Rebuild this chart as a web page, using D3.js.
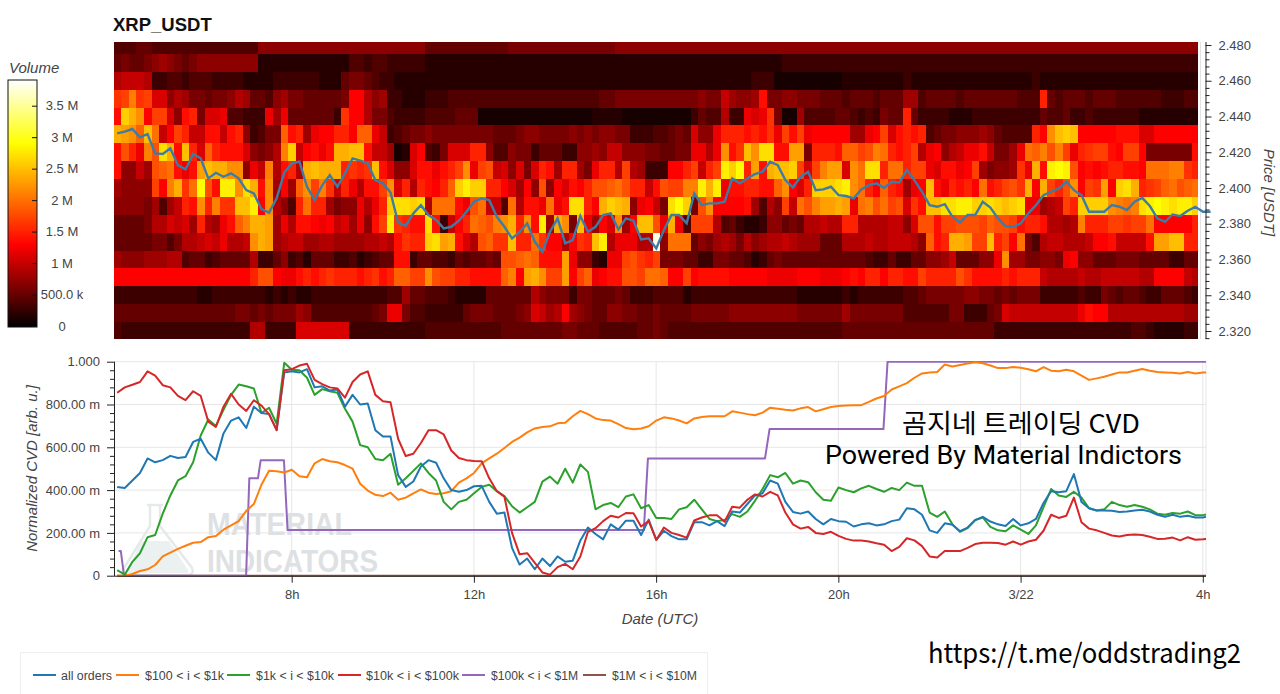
<!DOCTYPE html>
<html>
<head>
<meta charset="utf-8">
<script src="https://cdn.jsdelivr.net/npm/d3@7"></script>
<style>
  html, body { margin: 0; padding: 0; background: #fff; overflow: hidden; }
  svg { display: block; }
  text { font-family: "Liberation Sans", Arial, sans-serif; }
</style>
</head>
<body>
<div id="chart"></div>
<script>
// heatmap price bins, one row of volume per bin (unit: 0.1 M), one value per 10 minute column
var priceBins = [2.48,2.47,2.46,2.45,2.44,2.43,2.42,2.41,2.40,2.39,2.38,2.37,2.36,2.35,2.34,2.33,2.32]

var vol248 = [4,4,4,5,5,4,4,4,4,4,4,4,4,4,4,4,4,4,4,7,7,7,7,7,7,7,7,7,7,7,7,7,7,7,7,7,7,7,7,7,7,
  5,5,5,5,5,5,5,5,5,5,5,6,6,6,6,6,6,6,6,6,6,6,6,6,6,7,7,7,7,7,7,7,7,7,7,7,7,7,7,7,7,7,7,7,7,7,7,7,7,7,7,7,7,7,7,
  7,7,7,7,7,7,7,7,7,7,7,7,7,7,7,7,7,7,7,7,7,7,7,7,7,7,7,7,7,7,7,7,7,7,7,7,7,7,7,7,7,7,7,7,7,7,7]
var vol247 = [5,6,5,5,6,7,8,7,6,5,6,7,7,7,7,7,7,7,7,2,2,2,2,2,2,2,2,2,2,2,2,4,4,3,4,4,3,3,3,3,3,
  2,2,2,2,2,2,2,2,2,2,2,2,2,2,2,2,2,2,2,2,2,2,2,2,2,2,2,2,2,2,2,2,2,2,2,2,2,2,2,2,2,2,2,2,2,2,2,3,3,3,3,3,3,3,3,
  3,3,3,3,3,3,3,3,3,3,3,3,3,3,3,3,3,3,3,3,3,3,3,3,3,3,3,3,3,3,3,3,3,3,3,3,3,3,3,3,3,3,3,3,3,3,3]
var vol246 = [9,10,10,10,9,3,3,4,4,3,4,4,4,3,3,3,3,2,2,2,2,3,3,3,3,3,3,2,2,2,5,6,6,5,4,3,3,2,2,2,2,
  2,2,2,2,2,2,2,2,2,2,2,2,2,2,2,2,2,2,2,2,2,2,2,2,2,2,2,2,2,2,2,2,2,2,2,2,2,2,2,2,2,2,2,3,3,3,1,1,1,1,1,1,1,1,1,
  2,2,2,2,2,2,2,2,3,2,2,2,2,2,2,2,2,2,2,2,2,2,2,2,2,3,2,2,2,2,2,2,2,2,2,2,2,2,2,2,2,2,2,2,2,2,2]
var vol245 = [16,17,21,16,17,11,11,7,9,8,6,6,5,6,6,7,9,8,5,5,4,7,8,6,6,5,5,5,5,5,6,13,13,9,7,8,3,3,2,2,2,
  3,3,3,4,4,4,4,4,4,4,4,4,4,4,4,4,4,4,4,4,4,4,4,5,5,6,6,6,6,6,6,6,6,6,6,6,7,6,6,10,8,7,7,8,14,6,6,7,7,6,6,6,5,5,5,
  4,5,5,5,4,5,5,5,8,8,4,5,5,5,5,4,5,5,5,5,5,5,5,4,4,4,15,5,4,5,5,5,4,5,5,5,4,4,4,4,4,4,3,3,3,4,4]
var vol244 = [14,26,24,22,13,17,17,11,7,14,15,6,11,11,12,4,4,3,3,3,12,8,12,5,5,5,5,5,5,3,16,13,13,9,6,6,4,3,3,3,3,
  4,4,4,4,5,5,5,1,1,1,1,1,1,1,1,1,1,1,1,1,1,1,2,2,2,2,1,1,1,1,1,1,1,1,1,3,5,4,4,9,3,3,12,11,12,16,6,1,1,8,4,4,4,4,5,
  5,4,3,4,3,6,5,5,15,5,3,3,3,3,2,2,2,3,3,3,3,3,3,3,3,3,5,4,4,5,3,3,4,3,3,3,3,3,3,2,2,2,2,2,2,2,2]
var vol243 = [24,23,22,19,25,20,10,13,17,15,10,10,14,14,10,14,15,7,3,4,6,6,19,14,15,8,12,13,13,15,15,13,19,19,12,10,3,4,5,6,6,
  7,6,6,6,6,6,6,6,6,5,5,5,6,7,7,6,6,6,6,7,6,7,6,7,7,6,6,3,3,3,4,4,5,6,5,11,7,7,12,15,15,15,14,15,14,16,12,17,14,17,12,13,13,13,13,
  13,8,8,12,13,17,11,14,15,14,15,4,5,6,6,7,7,7,8,7,5,4,4,4,4,15,13,22,25,26,25,13,13,13,13,13,14,14,14,11,11,13,13,13,13,13,13]
var vol242 = [14,18,15,12,21,18,27,24,14,25,15,11,19,15,14,14,14,11,7,6,7,9,21,26,10,13,14,12,14,24,24,25,25,14,10,10,8,1,2,11,13,
  4,3,6,11,11,11,15,15,7,4,4,7,6,6,3,5,5,5,3,3,7,7,8,7,10,10,7,7,7,6,6,5,5,6,6,12,12,9,12,22,14,16,25,22,27,27,14,14,23,23,6,15,15,15,14,
  19,19,17,18,21,20,15,14,15,17,9,12,13,7,9,10,12,12,14,10,6,6,8,12,20,19,21,18,21,17,12,15,16,17,17,14,13,17,17,13,6,6,6,6,6,6,14]
var vol241 = [14,7,7,10,8,18,19,20,14,12,14,23,25,24,24,22,22,7,12,10,21,9,14,15,9,24,25,24,24,24,15,16,15,16,25,14,11,7,7,11,14,
  14,12,14,15,17,22,12,17,18,10,11,7,11,6,11,15,14,8,15,15,8,6,12,15,15,9,17,9,8,3,3,3,13,13,15,17,10,15,17,28,26,29,15,23,14,24,25,25,26,17,11,17,21,23,23,
  11,22,20,27,27,15,20,20,15,17,17,12,11,14,14,12,13,17,8,6,7,7,8,16,12,24,14,28,29,28,18,13,14,13,14,15,15,14,14,13,20,20,20,21,21,16,15]
var vol240 = [8,7,7,7,7,17,13,21,24,16,20,29,18,14,28,28,22,27,24,14,22,8,13,8,19,22,17,21,16,10,15,12,9,14,14,17,22,11,15,9,15,
  14,13,15,19,26,28,26,26,15,15,13,11,8,13,7,18,7,13,11,14,13,15,18,18,19,20,18,15,15,10,14,18,17,17,21,21,28,24,28,12,14,14,15,15,14,14,19,22,13,11,15,26,26,26,27,
  28,22,20,15,13,19,15,14,8,12,13,25,14,12,15,14,15,13,20,14,15,17,18,16,24,13,24,17,15,18,22,13,17,16,23,13,26,27,24,15,16,17,19,20,18,19,20]
var vol239 = [7,7,7,7,6,8,4,8,10,15,14,22,15,21,16,16,25,25,28,13,22,9,7,4,15,20,15,15,8,6,7,7,12,9,12,15,26,27,27,26,27,
  9,20,20,20,14,12,18,20,10,10,4,20,9,14,14,12,20,12,14,27,27,15,13,24,26,25,24,7,12,13,10,6,27,29,26,6,18,22,13,13,13,13,14,8,4,9,7,17,10,20,18,21,23,23,24,
  23,12,20,21,18,20,17,18,11,16,14,25,25,27,27,28,28,26,26,27,26,25,26,27,12,12,8,9,10,17,15,26,26,26,26,22,21,20,21,27,28,29,28,27,28,28,26]
var vol238 = [5,5,5,5,6,9,9,11,10,11,8,15,9,8,12,14,19,21,24,24,23,8,12,9,14,14,13,12,13,10,11,8,12,7,14,17,28,16,15,14,14,
  27,14,3,10,13,15,20,19,18,21,22,24,15,22,14,28,8,24,22,6,25,12,8,13,11,22,8,13,25,25,18,12,24,12,4,17,17,17,9,4,5,3,2,2,3,7,7,5,6,5,9,9,10,9,9,
  15,15,9,9,9,9,10,10,7,11,18,18,14,17,17,18,18,18,17,19,18,18,17,14,15,15,14,9,9,8,9,21,15,15,15,17,17,16,17,17,20,13,13,13,13,13,15]
var vol237 = [5,5,5,5,5,6,6,4,6,9,9,10,11,10,12,9,9,10,22,24,23,8,9,10,10,8,8,9,9,8,8,8,8,9,9,10,9,14,16,15,15,
  26,27,23,24,14,11,9,18,19,16,16,25,15,15,20,16,13,13,9,13,16,15,25,28,9,12,12,12,9,9,38,7,20,20,20,5,7,6,8,9,8,6,9,7,8,9,9,10,9,8,8,8,5,5,5,
  9,9,9,10,9,9,10,10,10,9,7,19,14,15,24,24,23,17,17,25,15,17,13,20,6,4,9,10,10,9,9,9,10,13,13,14,10,10,10,10,14,23,23,25,25,15,15]
var vol236 = [8,7,7,7,8,8,8,9,9,4,5,5,3,4,5,5,5,5,9,3,3,5,7,3,4,2,5,5,5,3,3,4,2,3,4,5,5,14,14,3,5,
  5,4,4,3,5,4,5,5,6,5,18,18,19,20,19,14,14,14,23,12,7,7,3,2,12,12,17,18,16,15,17,6,6,6,5,5,3,3,6,6,5,5,4,2,3,5,6,5,5,5,5,5,5,5,5,
  5,5,5,4,3,3,5,3,3,5,5,7,7,8,10,5,5,5,7,7,12,22,8,8,6,6,7,7,6,12,13,7,7,5,5,5,6,6,6,5,5,5,5,3,3,5,5]
var vol235 = [13,13,13,13,13,13,13,13,13,13,13,13,13,13,13,13,13,13,15,18,18,13,12,12,14,15,14,15,16,15,15,15,14,15,16,14,15,19,19,17,17,
  22,18,17,17,15,15,14,14,14,14,19,21,13,23,24,22,17,17,23,13,17,19,12,13,14,14,18,18,17,20,20,19,13,13,17,13,14,14,14,14,13,13,13,13,13,12,12,12,12,13,13,13,12,12,12,
  13,14,13,15,15,13,15,15,14,14,17,15,15,15,15,18,16,14,14,14,14,15,14,15,15,15,10,9,9,9,9,10,9,9,10,10,10,10,10,9,9,13,13,13,13,10,9]
var vol234 = [3,3,3,3,3,3,3,3,3,3,3,2,2,3,3,3,3,3,3,3,2,3,2,3,2,2,3,3,3,3,3,3,3,3,3,3,4,4,8,5,5,
  4,4,4,3,2,2,2,2,5,5,5,5,5,5,9,7,6,6,6,3,6,6,5,5,5,6,5,3,3,3,4,4,4,4,2,3,3,3,3,3,3,3,3,3,3,3,3,3,3,2,2,2,2,2,2,
  3,2,3,3,3,3,3,3,4,4,5,6,6,6,6,6,7,7,6,6,5,6,5,6,6,6,3,3,3,3,3,4,3,3,6,5,4,5,5,4,3,3,5,5,5,4,3]
var vol233 = [5,5,5,5,5,5,5,5,5,5,5,5,5,5,5,5,6,6,5,6,5,6,6,6,8,7,4,4,4,4,4,4,4,4,5,6,12,12,6,4,4,
  3,3,3,3,3,5,6,6,6,5,5,5,6,7,11,10,8,9,13,8,7,6,5,5,7,7,6,6,5,5,6,5,5,5,5,6,6,6,6,6,7,7,7,7,7,7,7,7,7,6,6,6,6,6,6,
  8,6,6,6,6,6,6,6,4,4,4,4,4,4,6,6,3,3,3,5,6,11,10,10,10,10,10,10,10,10,10,12,14,13,13,9,9,9,9,9,9,9,9,9,9,8,8]
var vol232 = [4,3,3,3,3,3,3,3,3,3,3,3,3,3,3,3,3,3,9,9,3,3,3,3,11,11,11,11,11,11,11,3,3,3,3,3,3,3,3,3,3,
  4,4,4,4,4,4,4,4,4,4,5,5,5,5,5,5,5,5,6,6,5,5,5,4,4,4,4,4,5,5,6,5,4,4,4,4,4,4,4,4,4,4,4,4,4,4,4,4,4,4,4,4,4,4,4,
  5,5,5,5,5,5,5,5,5,5,5,5,5,5,5,5,5,5,5,5,3,3,3,3,3,3,3,3,3,3,3,3,3,3,3,3,3,3,4,4,3,2,2,2,2,3,3]

// mid price drawn over the heatmap, one value per 10 minutes
var midPrice = [2.4306,2.4315,2.4330,2.4283,2.4302,2.4194,2.4190,2.4222,2.4128,2.4104,2.4190,2.4166,2.4054,2.4085,2.4063,2.4082,2.4054,2.3988,2.3970,2.3882,2.3862,2.3942,2.4085,2.4138,2.4147,2.4007,2.3932,2.4015,2.4072,2.4007,2.4082,2.4166,2.4153,2.4138,2.4044,2.4026,2.3975,2.3806,2.3789,2.3858,2.3904,
  2.3849,2.3821,2.3774,2.3783,2.3817,2.3867,2.3923,2.3942,2.3932,2.3839,2.3783,2.3718,2.3755,2.3802,2.3699,2.3643,2.3755,2.3830,2.3690,2.3709,2.3843,2.3755,2.3783,2.3849,2.3858,2.3768,2.3830,2.3817,2.3712,2.3718,2.3662,2.3765,2.3849,2.3849,2.3802,2.3970,2.3904,2.3914,2.3914,2.3923,2.4054,2.4026,2.4054,2.4078,2.4091,2.4147,2.4128,2.4044,2.4003,2.4063,2.4091,2.3988,2.3992,2.4007,2.3960,
  2.3955,2.3942,2.3992,2.4016,2.4026,2.4001,2.4035,2.4031,2.4100,2.4044,2.3979,2.3904,2.3895,2.3910,2.3839,2.3806,2.3849,2.3849,2.3923,2.3891,2.3830,2.3787,2.3783,2.3802,2.3858,2.3904,2.3960,2.3979,2.3998,2.4035,2.3988,2.3960,2.3867,2.3867,2.3867,2.3904,2.3895,2.3876,2.3923,2.3945,2.3899,2.3830,2.3811,2.3852,2.3843,2.3873,2.3895,2.3867,2.3867]

// normalized CVD, thousandths, one value per 10 minutes
var cvdAll = [415,410,445,480,548,530,540,560,550,555,625,640,575,540,665,725,740,690,790,760,755,680,950,955,950,965,880,885,865,870,790,845,800,805,680,650,650,470,415,440,510,
  540,528,455,400,392,400,418,420,345,290,295,130,52,80,30,80,45,90,65,70,165,225,195,170,240,215,257,257,190,262,167,210,185,170,170,250,250,235,255,232,300,295,335,375,385,445,430,345,298,290,300,265,240,265,255,
  252,230,240,245,235,240,255,262,315,310,285,212,200,245,238,208,225,260,275,253,240,232,265,235,245,265,340,395,390,395,475,345,315,305,305,303,298,300,305,308,300,285,275,285,275,280,272,272,280]
var cvd100 = [0,0,8,22,30,50,90,108,125,140,154,157,180,185,215,235,255,303,335,425,490,488,482,495,465,460,525,545,535,530,517,500,430,398,378,372,388,355,365,385,403,
  388,382,385,395,435,455,480,525,548,570,597,625,645,670,688,695,698,712,715,745,770,755,735,727,725,708,690,684,688,698,725,740,735,725,712,735,742,745,745,745,768,762,755,750,762,785,780,775,772,782,788,768,778,788,793,
  795,797,797,812,828,840,870,885,900,925,945,950,952,987,978,985,992,997,993,982,970,970,975,972,965,955,975,958,955,962,955,935,915,922,930,940,950,950,958,966,958,952,950,948,945,952,945,950,950]
var cvd1k = [26,5,65,105,180,190,290,375,445,465,530,655,730,700,775,845,893,885,875,760,785,710,995,962,960,925,845,872,862,855,780,720,610,600,545,540,570,425,455,490,525,
  480,445,345,310,345,355,385,415,425,395,372,325,295,320,345,440,463,430,500,435,520,485,310,330,340,320,370,380,315,330,270,270,265,310,320,355,310,265,255,260,288,275,300,350,405,470,460,480,430,445,437,390,355,350,412,
  400,390,408,420,405,392,410,400,435,420,420,295,275,300,240,205,222,260,272,228,212,208,235,215,195,235,320,405,375,368,392,365,315,305,310,345,330,322,330,322,310,290,285,293,290,300,283,283,290]
var cvd10k = [855,880,892,905,955,935,890,880,840,820,862,840,720,695,790,850,800,770,820,795,755,680,960,965,982,990,915,895,880,875,832,905,940,955,845,815,810,640,559,570,620,
  680,680,660,585,550,540,536,535,455,395,369,200,100,105,60,15,5,40,55,30,90,205,222,255,280,272,293,292,230,255,167,225,200,190,178,258,272,282,282,252,322,318,355,380,370,392,375,295,240,220,228,200,195,205,186,
  172,164,164,160,152,145,115,135,175,165,138,90,85,115,115,115,130,148,154,154,153,145,160,145,160,168,210,285,270,280,365,250,220,212,200,188,183,190,192,190,182,172,173,178,165,180,168,170,175]
// the two biggest order classes only change in steps
var stepHours100k = [4.2,4.25,4.32,7.0,7.07,7.26,7.32,7.83,7.91,15.73,15.82,18.39,18.49,20.99,21.08,28.07]
var cvd100k = [115,115,0,0,455,455,540,540,213,213,548,548,685,685,1000,1000]
var stepHours1m = [4.17,28.07]
var cvd1m = [0,0]

var seriesNames = ["all orders","$100 < i < $1k","$1k < i < $10k","$10k < i < $100k","$100k < i < $1M","$1M < i < $10M"]

var colorTicks = [0,0.5,1,1.5,2,2.5,3,3.5]
var colorLabels = ["0","500.0 k","1 M","1.5 M","2 M","2.5 M","3 M","3.5 M"]
var priceTicks = [2.32,2.34,2.36,2.38,2.40,2.42,2.44,2.46,2.48]
var cvdTicks = [0,0.2,0.4,0.6,0.8,1]
var cvdLabels = ["0","200.00 m","400.00 m","600.00 m","800.00 m","1.000"]
var dateTicks = [8,12,16,20,24,28]
var dateLabels = ["8h","12h","16h","20h","3/22","4h"]

var heatRows = [vol248,vol247,vol246,vol245,vol244,vol243,vol242,vol241,vol240,vol239,vol238,vol237,vol236,vol235,vol234,vol233,vol232]
var heatHour0 = 4.09, lineHour0 = 4.17

var W = 1280, H = 694
var inkAxis = "#222", inkText = "#444"

var svg = d3.select("#chart").append("svg").attr("width", W).attr("height", H)
var defs = svg.append("defs")

// hot colormap, slightly lifted in the dark reds
var hot = d3.scaleLinear().domain([0, 0.5, 1.3, 2.9, 3.9])
    .range(["#000000", "#650000", "#ff0000", "#ffff00", "#ffffff"]).clamp(true)

var x = d3.scaleLinear().domain([4.1, 28.07]).range([114, 1206])
var yPrice = d3.scaleLinear().domain([2.32, 2.48]).range([331, 45])
var yCvd = d3.scaleLinear().domain([0, 1]).range([575.7, 361.7])
var yColor = d3.scaleLinear().domain([0, 3.5]).range([326, 105.7])

defs.append("clipPath").attr("id", "heatClip").append("rect")
    .attr("x", 113.5).attr("y", 42).attr("width", 1198 - 113.5).attr("height", 339 - 42)
defs.append("clipPath").attr("id", "cvdClip").append("rect")
    .attr("x", 114).attr("y", 361).attr("width", 1092).attr("height", 217)
defs.append("filter").attr("id", "soft").attr("x", "-2%").attr("y", "-2%").attr("width", "104%").attr("height", "104%")
    .append("feGaussianBlur").attr("stdDeviation", 0.5)

svg.append("text").attr("x", 113).attr("y", 31)
    .style("font-size", "18.5px").style("font-weight", "bold").style("fill", "#111")
    .text("XRP_USDT")

// ---- heatmap
var heat = svg.append("g").attr("clip-path", "url(#heatClip)")
    .append("g").attr("filter", "url(#soft)").attr("shape-rendering", "crispEdges")
heatRows.forEach(function(row, r) {
    var top = yPrice(priceBins[r] + 0.005)
    var rowH = yPrice(priceBins[r] - 0.005) - top
    heat.append("g").selectAll("rect").data(row).enter().append("rect")
        .attr("x", function(d, i) { return x(heatHour0 + i / 6) })
        .attr("y", top)
        .attr("width", x(heatHour0 + 1 / 6) - x(heatHour0) + 0.6)
        .attr("height", rowH + 0.6)
        .attr("fill", function(d) { return hot(d / 10) })
})

svg.append("line").attr("x1", 1200.5).attr("x2", 1200.5).attr("y1", 42).attr("y2", 339)
    .attr("stroke", "#e2e2e2")

svg.append("path").datum(midPrice)
    .attr("fill", "none").attr("stroke", "#3c7ca6").attr("stroke-width", 2.4)
    .attr("d", d3.line()
        .x(function(d, i) { return x(lineHour0 + i / 6) })
        .y(function(d) { return yPrice(d) }))

// price axis, minor ticks first
var priceMinor = d3.range(2.316, 2.4825, 0.004).filter(function(v) {
    return Math.abs(v * 50 - Math.round(v * 50)) > 0.01
})
var priceMinorAxis = svg.append("g").attr("transform", "translate(1205.5,0)")
    .call(d3.axisRight(yPrice).tickValues(priceMinor).tickSize(4).tickFormat(""))
var priceAxis = svg.append("g").attr("transform", "translate(1205.5,0)")
    .call(d3.axisRight(yPrice).tickValues(priceTicks).tickSize(6).tickPadding(7).tickFormat(d3.format(".3f")))
priceMinorAxis.select(".domain").remove()
priceAxis.select(".domain").attr("d", "M0.5,42V339")
styleAxis(priceMinorAxis)
styleAxis(priceAxis)

svg.append("text")
    .attr("transform", "translate(1264,192.5) rotate(90)")
    .attr("text-anchor", "middle").style("font-size", "15px").style("font-style", "italic").style("fill", inkText)
    .text("Price [USDT]")

// ---- colorbar
var grad = defs.append("linearGradient").attr("id", "hotGrad")
    .attr("x1", 0).attr("x2", 0).attr("y1", 1).attr("y2", 0)
grad.selectAll("stop").data(hot.domain()).enter().append("stop")
    .attr("offset", function(d) { return d / 3.9 })
    .attr("stop-color", function(d) { return hot(d) })

svg.append("rect").attr("x", 8).attr("y", 80).attr("width", 29).attr("height", 247)
    .attr("fill", "url(#hotGrad)").attr("stroke", "#111").attr("stroke-width", 1)

var colorAxis = svg.append("g").attr("transform", "translate(37,0)")
    .call(d3.axisLeft(yColor).tickValues(colorTicks).tickSize(5).tickFormat(""))
colorAxis.select(".domain").remove()
colorAxis.selectAll("line").attr("stroke", "#111")

svg.append("g").selectAll("text").data(colorTicks).enter().append("text")
    .attr("x", 62)
    .attr("y", function(d) { return yColor(d) + 4.5 })
    .attr("text-anchor", "middle").style("font-size", "13px").style("fill", inkText)
    .text(function(d, i) { return colorLabels[i] })

svg.append("text").attr("x", 9).attr("y", 73)
    .style("font-size", "15px").style("font-style", "italic").style("fill", inkText)
    .text("Volume")

// ---- CVD panel
var grid = svg.append("g").attr("stroke", "#e6e6e6").attr("stroke-width", 1)
cvdTicks.slice(1).forEach(function(v) {
    grid.append("line").attr("x1", 114).attr("x2", 1206).attr("y1", yCvd(v)).attr("y2", yCvd(v))
})
dateTicks.forEach(function(h) {
    grid.append("line").attr("x1", x(h)).attr("x2", x(h)).attr("y1", 361.7).attr("y2", 575.7)
})
grid.append("line").attr("x1", 1206).attr("x2", 1206).attr("y1", 361.7).attr("y2", 575.7)

drawWatermark(svg.append("g"))

var lineGen = d3.line()
    .x(function(d) { return x(d[0]) })
    .y(function(d) { return yCvd(d[1] / 1000) })

function gridSeries(values) {
    return values.map(function(v, i) { return [lineHour0 + i / 6, v] })
}
function stepSeries(hours, values) {
    return values.map(function(v, i) { return [hours[i], v] })
}

var cvdSeries = [
    gridSeries(cvdAll), gridSeries(cvd100), gridSeries(cvd1k), gridSeries(cvd10k),
    stepSeries(stepHours100k, cvd100k), stepSeries(stepHours1m, cvd1m)
]
var lineOrder = [5, 4, 1, 2, 0, 3]
var cvdLayer = svg.append("g").attr("clip-path", "url(#cvdClip)")
lineOrder.forEach(function(s) {
    cvdLayer.append("path").datum(cvdSeries[s])
        .attr("fill", "none").attr("stroke", d3.schemeCategory10[s]).attr("stroke-width", 2)
        .attr("stroke-linejoin", "round").attr("d", lineGen)
})

var cvdMinor = d3.range(0.04, 1, 0.04).filter(function(v) {
    return Math.abs(v * 5 - Math.round(v * 5)) > 0.01
})
var cvdMinorAxis = svg.append("g").attr("transform", "translate(114,0)")
    .call(d3.axisLeft(yCvd).tickValues(cvdMinor).tickSize(4).tickFormat(""))
var cvdAxis = svg.append("g").attr("transform", "translate(114,0)")
    .call(d3.axisLeft(yCvd).tickValues(cvdTicks).tickSize(7).tickPadding(7)
        .tickFormat(function(d, i) { return cvdLabels[i] }))
cvdMinorAxis.select(".domain").remove()
cvdAxis.select(".domain").attr("d", "M0.5,361.7V576")
styleAxis(cvdMinorAxis)
styleAxis(cvdAxis)

var dateAxis = svg.append("g").attr("transform", "translate(0,575.7)")
    .call(d3.axisBottom(x).tickValues(dateTicks).tickSize(7).tickPadding(7)
        .tickFormat(function(d, i) { return dateLabels[i] }))
dateAxis.select(".domain").attr("d", "M114,0.5H1206")
styleAxis(dateAxis)

svg.append("text")
    .attr("transform", "translate(37,468.5) rotate(-90)")
    .attr("text-anchor", "middle").style("font-size", "15px").style("font-style", "italic").style("fill", inkText)
    .text("Normalized CVD [arb. u.]")

svg.append("text").attr("x", 660).attr("y", 623.5).attr("text-anchor", "middle")
    .style("font-size", "15px").style("font-style", "italic").style("fill", inkText)
    .text("Date (UTC)")

// ---- pasted captions
var captionFont = '"Noto Sans CJK KR", "Noto Sans", sans-serif'
addCaption("곰지네 트레이딩 CVD", 902, 432.5, 26, 238, captionFont)
addCaption("Powered By Material Indictors", 825, 464, 26, 357, 'Roboto, "Noto Sans", sans-serif')
addCaption("https://t.me/oddstrading2", 928, 663, 27, 313, captionFont)

function addCaption(txt, px, py, size, len, fam) {
    svg.append("text").attr("x", px).attr("y", py)
        .attr("textLength", len).attr("lengthAdjust", "spacingAndGlyphs")
        .style("font-family", fam).style("font-size", size + "px").style("fill", "#000")
        .text(txt)
}

// ---- legend
svg.append("rect").attr("x", 20.5).attr("y", 652.5).attr("width", 687).attr("height", 60)
    .attr("fill", "#fff").attr("stroke", "#eeeeee")

var legendGlyphX = [33, 116, 227, 338, 462, 583]
var legendTextX = [61, 145, 256, 366, 491, 612]
var legendTextW = [51, 79, 78, 93, 87, 85]
seriesNames.forEach(function(name, s) {
    svg.append("line").attr("x1", legendGlyphX[s]).attr("x2", legendGlyphX[s] + 23)
        .attr("y1", 675).attr("y2", 675)
        .attr("stroke", d3.schemeCategory10[s]).attr("stroke-width", 2)
    svg.append("text").attr("x", legendTextX[s]).attr("y", 679.5)
        .attr("textLength", legendTextW[s]).attr("lengthAdjust", "spacingAndGlyphs")
        .style("font-size", "12.5px").style("fill", inkText)
        .text(name)
})

function styleAxis(g) {
    g.selectAll("line").attr("stroke", inkAxis)
    g.select(".domain").attr("stroke", inkAxis)
    g.selectAll("text").style("font-size", "13px").style("fill", inkText)
        .style("font-family", '"Liberation Sans", Arial, sans-serif')
}

function drawWatermark(g) {
    g.append("path")
        .attr("d", "M147,505H163M150,505V526L124,568Q121,575 130,575H186Q195,575 192,568L160,526V505")
        .attr("fill", "none").attr("stroke", "#e6e9e9").attr("stroke-width", 2.5)
    g.append("path")
        .attr("d", "M141,541H169L188,570Q190,573 186,573H130Q126,573 128,570Z")
        .attr("fill", "#eaf1f0")
    g.append("text").attr("x", 207).attr("y", 535)
        .attr("textLength", 145).attr("lengthAdjust", "spacingAndGlyphs")
        .style("font-family", '"Liberation Sans Narrow", "Liberation Sans", sans-serif')
        .style("font-size", "32px").style("font-weight", "bold").style("fill", "#dee1e3")
        .text("MATERIAL")
    g.append("text").attr("x", 207).attr("y", 572)
        .attr("textLength", 171).attr("lengthAdjust", "spacingAndGlyphs")
        .style("font-family", '"Liberation Sans Narrow", "Liberation Sans", sans-serif')
        .style("font-size", "32px").style("font-weight", "bold").style("fill", "#dee1e3")
        .text("INDICATORS")
}
</script>
</body>
</html>
